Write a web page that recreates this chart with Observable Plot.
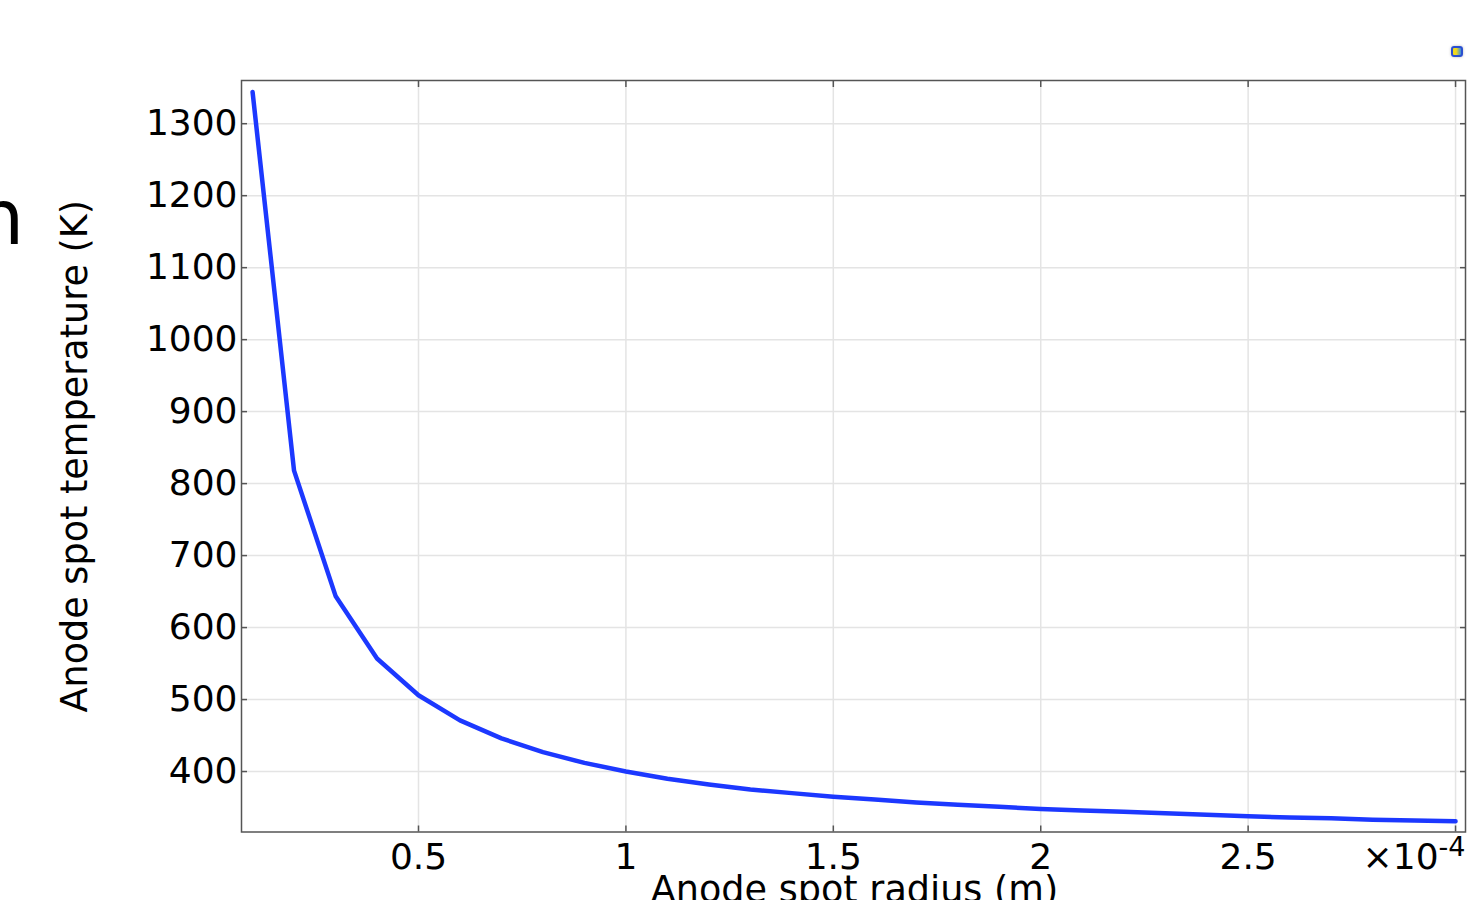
<!DOCTYPE html>
<html><head><meta charset="utf-8">
<script src="https://cdn.jsdelivr.net/npm/d3@7"></script>
<script src="https://cdn.jsdelivr.net/npm/@observablehq/plot@0.6"></script>
<style>
html,body{margin:0;padding:0;background:#fff;overflow:hidden;}
#wrap{position:relative;width:1482px;height:900px;font-family:"DejaVu Sans",sans-serif;}
#frag{position:absolute;left:-24px;top:180px;font-size:76px;line-height:1;color:#000;}
#icon{position:absolute;left:1451px;top:46px;width:8px;height:7px;border:2px solid #2a4fd0;border-radius:3px;background:linear-gradient(90deg,#f0d81c 40%,#3a8de0);box-shadow:0 0 3px #bbb;}
</style>
</head><body>
<div id="wrap"><div id="frag">n</div><div id="icon"></div></div>
<script>
// Anode spot radius (×1e-4 m)
const radius = [0.1,0.2,0.3,0.4,0.5,0.6,0.7,0.8,0.9,1.0,1.1,1.2,1.3,1.4,1.5,1.6,1.7,1.8,1.9,2.0,2.1,2.2,2.3,2.4,2.5,2.6,2.7,2.8,2.9,3.0];
// Anode spot temperature (K)
const temperature = [1344,818,644,557,506,471,446,427,412,400,390,382,375,370,365,361,357,354,351,348,346,344,342,340,338,336,335,333,332,331];
const xTicks = [0.5,1,1.5,2,2.5,3];
const yTicks = [400,500,600,700,800,900,1000,1100,1200,1300];
const xDomain = [0.0733,3.024];
const yDomain = [316,1360];
const xLabel = "Anode spot radius (m)";
const yLabel = "Anode spot temperature (K)";
const multiplier = "×10";
const exponent = "-4";

const data = radius.map((r,i)=>({r, t: temperature[i]}));
const fs = 36;
const lfs = 36.6;
const axisCol = "#555";
const chart = Plot.plot({
  width:1482, height:900,
  marginLeft:241, marginRight:17, marginTop:80, marginBottom:68.5,
  style:{fontFamily:"DejaVu Sans", fontSize:fs+"px", color:"#000", background:"#fff", overflow:"visible"},
  x:{domain:xDomain},
  y:{domain:yDomain},
  marks:[
    Plot.gridX(xTicks,{stroke:"#e4e4e4",strokeOpacity:1,strokeWidth:1.5}),
    Plot.gridY(yTicks,{stroke:"#e4e4e4",strokeOpacity:1,strokeWidth:1.5}),
    Plot.line(data,{x:"r",y:"t",stroke:"#1c38ff",strokeWidth:4.5}),
    Plot.frame({stroke:axisCol,strokeWidth:1.5}),
    Plot.axisX(xTicks,{anchor:"bottom",tickSize:-6,tickFormat:()=>"",label:null,stroke:axisCol,strokeWidth:1.5}),
    Plot.axisX(xTicks,{anchor:"top",tickSize:-6,tickFormat:()=>"",label:null,stroke:axisCol,strokeWidth:1.5}),
    Plot.axisY(yTicks,{anchor:"left",tickSize:-6,tickFormat:()=>"",label:null,stroke:axisCol,strokeWidth:1.5}),
    Plot.axisY(yTicks,{anchor:"right",tickSize:-6,tickFormat:()=>"",label:null,stroke:axisCol,strokeWidth:1.5}),
    Plot.axisX(xTicks,{anchor:"bottom",tickSize:0,tickPadding:11,tickFormat:d=>d===3?"":String(d),label:null,fontSize:fs,fill:"#000"}),
    Plot.axisY(yTicks,{anchor:"left",tickSize:0,tickPadding:4,tickFormat:d=>String(d),label:null,fontSize:fs,fill:"#000"}),
    Plot.text([xLabel],{text:d=>d,frameAnchor:"bottom",dy:70,dx:1,lineAnchor:"bottom",fontSize:lfs,fill:"#000"}),
    Plot.text([yLabel],{text:d=>d,frameAnchor:"left",textAnchor:"middle",lineAnchor:"middle",dx:-166,rotate:-90,fontSize:lfs,fill:"#000"}),
    Plot.text([multiplier],{text:d=>d,frameAnchor:"bottom-right",textAnchor:"end",lineAnchor:"top",dy:11,fontSize:fs,fill:"#000"})
  ]
});
const wrap = document.getElementById("wrap");
chart.style.position="absolute"; chart.style.left="0"; chart.style.top="0";
wrap.insertBefore(chart, wrap.firstChild);
d3.select(chart).selectAll("text").filter(function(){ return this.textContent === multiplier && this.children.length === 0; }).each(function(){
  d3.select(this).append("tspan").attr("dy","-0.45em").attr("font-size","27px").text(exponent);
});
</script>
</body></html>
